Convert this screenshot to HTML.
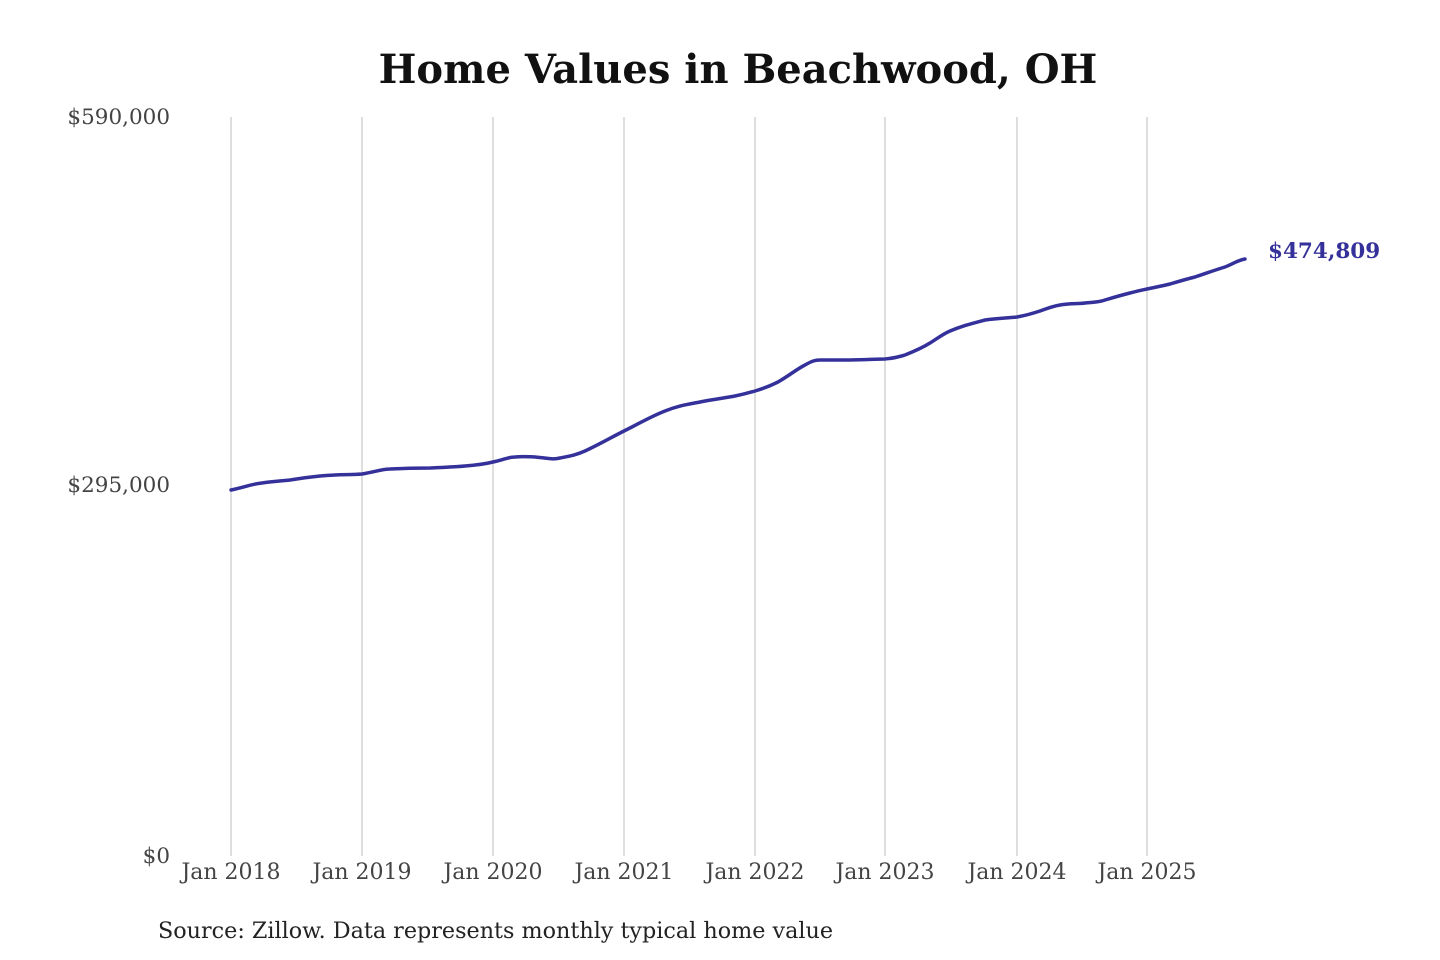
<!DOCTYPE html>
<html><head><meta charset="utf-8"><style>
html,body{margin:0;padding:0;background:#fff;}
</style></head><body>
<svg width="1440" height="960" viewBox="0 0 1440 960" xmlns="http://www.w3.org/2000/svg" style="display:block">
<rect width="1440" height="960" fill="#fff"/>
<text x="738" y="83" text-anchor="middle" font-family="DejaVu Serif, serif" font-weight="bold" font-size="40" fill="#111">Home Values in Beachwood, OH</text>
<g stroke="#c4c4c4" stroke-width="1.1">
<line x1="231" y1="117" x2="231" y2="856"/>
<line x1="362" y1="117" x2="362" y2="856"/>
<line x1="493" y1="117" x2="493" y2="856"/>
<line x1="624" y1="117" x2="624" y2="856"/>
<line x1="755" y1="117" x2="755" y2="856"/>
<line x1="885" y1="117" x2="885" y2="856"/>
<line x1="1017" y1="117" x2="1017" y2="856"/>
<line x1="1147" y1="117" x2="1147" y2="856"/>
</g>
<g font-family="DejaVu Serif, serif" font-size="21.5" fill="#444" text-anchor="end">
<text x="170" y="124">$590,000</text>
<text x="170" y="492">$295,000</text>
<text x="170" y="863">$0</text>
</g>
<g font-family="DejaVu Serif, serif" font-size="22" fill="#444" text-anchor="middle">
<text x="231" y="879">Jan 2018</text>
<text x="362" y="879">Jan 2019</text>
<text x="493" y="879">Jan 2020</text>
<text x="624" y="879">Jan 2021</text>
<text x="755" y="879">Jan 2022</text>
<text x="885" y="879">Jan 2023</text>
<text x="1017" y="879">Jan 2024</text>
<text x="1147" y="879">Jan 2025</text>
</g>
<path fill="none" stroke="#35319a" stroke-width="3.5" stroke-linejoin="round" stroke-linecap="round"
d="M231,490 C245,487 252,484 262,483 C275,481 282,481 290,480 C302,478 310,477 320,476 C340,474 350,475 362,474 C375,472 382,469 390,469 C410,468 420,468 430,468 C448,467 455,467 465,466 C478,465 485,464 493,462 C503,460 508,457 515,457 C525,456 530,457 535,457 C548,458 552,460 560,458 C570,456 576,455 585,451 C600,444 612,437 624,431 C640,423 652,416 665,411 C680,405 690,404 700,402 C715,399 725,398 735,396 C745,394 748,393 755,391 C765,388 770,386 778,382 C790,375 797,369 805,365 C812,361 815,360 820,360 C835,360 840,360 850,360 C865,360 875,359 885,359 C895,358 898,357 905,355 C915,351 922,348 930,343 C938,338 943,334 950,331 C962,326 970,324 985,320 C1000,318 1008,318 1017,317 C1028,315 1034,313 1040,311 C1048,308 1054,306 1060,305 C1070,303 1078,304 1085,303 C1095,302 1100,302 1105,300 C1115,297 1122,295 1130,293 C1138,291 1142,290 1147,289 C1156,287 1162,286 1170,284 C1180,281 1187,279 1195,277 C1207,273 1215,270 1225,267 C1233,264 1238,260 1245,259"/>
<text x="1268" y="258" font-family="DejaVu Serif, serif" font-weight="bold" font-size="21.5" fill="#35319a">$474,809</text>
<text x="158" y="938" font-family="DejaVu Serif, serif" font-size="22" fill="#222" textLength="675" lengthAdjust="spacingAndGlyphs">Source: Zillow. Data represents monthly typical home value</text>
</svg>
</body></html>
